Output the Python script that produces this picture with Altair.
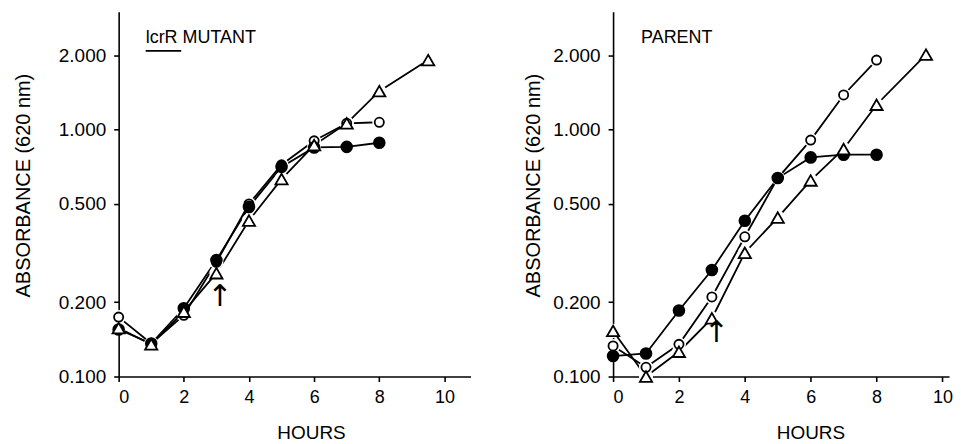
import altair as alt
import pandas as pd

# ---- data ----
hours = [0, 1, 2, 3, 4, 5, 6, 7, 8]
hours_triangle = [0, 1, 2, 3, 4, 5, 6, 7, 8, 9.5]

# lcrR mutant panel
mut_open_circle = [0.174, 0.136, 0.177, 0.290, 0.500, 0.720, 0.900, 1.060, 1.070]
mut_filled_circle = [0.155, 0.136, 0.189, 0.296, 0.486, 0.706, 0.846, 0.851, 0.884]
mut_triangle = [0.157, 0.135, 0.183, 0.262, 0.428, 0.630, 0.865, 1.060, 1.430, 1.910]

# parent panel
par_open_circle = [0.133, 0.109, 0.135, 0.210, 0.368, 0.636, 0.906, 1.380, 1.910]
par_filled_circle = [0.121, 0.124, 0.185, 0.270, 0.427, 0.636, 0.771, 0.791, 0.791]
par_triangle = [0.153, 0.100, 0.126, 0.172, 0.317, 0.440, 0.622, 0.834, 1.260, 2.010]

x_ticks = [0, 2, 4, 6, 8, 10]
y_ticks = [0.1, 0.2, 0.5, 1.0, 2.0]

panel_titles = ["lcrR MUTANT", "PARENT"]
title_hour = [0.83, 0.85]
title_value = [2.23, 2.23]
underline_hours = [0.83, 1.92]
underline_value = 2.08
arrow_hour = [3.1, 3.13]
arrow_value = [0.21, 0.15]

series_order = ["open", "filled", "triangle"]


def long_table(panel, open_c, filled_c, tri):
    rows = []
    for h, v in zip(hours, open_c):
        rows.append({"panel": panel, "series": "open", "hour": h, "value": v})
    for h, v in zip(hours, filled_c):
        rows.append({"panel": panel, "series": "filled", "hour": h, "value": v})
    for h, v in zip(hours_triangle, tri):
        rows.append({"panel": panel, "series": "triangle", "hour": h, "value": v})
    return pd.DataFrame(rows)


FONT = "Liberation Sans"


def panel_chart(df, title, t_h, t_v, a_h, a_v, width, xmax, ytitle_x, xtitle_x, underline=False):
    xs = alt.Scale(domain=[0, xmax], nice=False, zero=False)
    ys = alt.Scale(type="log", domain=[0.1, 3.0], nice=False)
    x = alt.X("hour:Q", scale=xs,
              axis=alt.Axis(values=x_ticks, title="HOURS", titleX=xtitle_x, titleY=56,
                            titleAlign="center", titleBaseline="middle", labelPadding=7))
    y = alt.Y("value:Q", scale=ys,
              axis=alt.Axis(values=y_ticks, format=".3f", title="ABSORBANCE (620 nm)",
                            titleX=ytitle_x, titleY=174, titleAngle=270, titleAlign="center",
                            titleBaseline="middle", labelPadding=8))
    xa = alt.X("hour:Q", scale=xs)
    ya = alt.Y("value:Q", scale=ys)
    base = alt.Chart(df)
    lines = base.mark_line(color="black", strokeWidth=1.8).encode(
        x=x, y=y, detail="series:N", order="hour:Q")
    halo = base.transform_filter(alt.datum.series != "filled").mark_point(
        filled=True, color="white", opacity=1, size=200, shape="circle").encode(x=xa, y=ya)
    pts = base.mark_point(stroke="black", strokeWidth=1.8, opacity=1, fillOpacity=1).encode(
        x=xa, y=ya,
        shape=alt.Shape("series:N", scale=alt.Scale(domain=series_order,
                        range=["circle", "circle", "triangle-up"]), legend=None),
        fill=alt.Fill("series:N", scale=alt.Scale(domain=series_order,
                      range=["white", "black", "white"]), legend=None),
        size=alt.Size("series:N", scale=alt.Scale(domain=series_order,
                      range=[85, 150, 50]), legend=None),
    )
    tdf = pd.DataFrame({"hour": [t_h], "value": [t_v], "text": [title]})
    ttl = alt.Chart(tdf).mark_text(align="left", baseline="alphabetic", font=FONT,
                                   fontSize=18, color="black").encode(
        x=xa, y=ya, text="text:N")
    adf = pd.DataFrame({"hour": [a_h], "value": [a_v], "text": ["↑"]})
    arrow = alt.Chart(adf).mark_text(baseline="middle", font="DejaVu Sans", fontSize=30,
                                     color="black").encode(
        x=xa, y=ya, text="text:N")
    layers = [lines, halo, pts, ttl, arrow]
    if underline:
        udf = pd.DataFrame({"hour": [underline_hours[0]], "h2": [underline_hours[1]],
                            "value": [underline_value]})
        ul = alt.Chart(udf).mark_rule(color="black", strokeWidth=1.8).encode(
            x=xa, x2="h2:Q", y=ya)
        layers.append(ul)
    return alt.layer(*layers).properties(width=width, height=366)


left_df = long_table("mutant", mut_open_circle, mut_filled_circle, mut_triangle)
right_df = long_table("parent", par_open_circle, par_filled_circle, par_triangle)

left = panel_chart(left_df, panel_titles[0], title_hour[0], title_value[0],
                   arrow_hour[0], arrow_value[0], 353, 10.8, -95, 193, underline=True)
right = panel_chart(right_df, panel_titles[1], title_hour[1], title_value[1],
                    arrow_hour[1], arrow_value[1], 337, 10.2, -80, 198)

chart = alt.hconcat(left, right, spacing=53).properties(
    padding={"left": 6, "top": 3, "right": 0, "bottom": 0}
).configure_view(stroke=None).configure_axis(
    grid=False, labelFont=FONT, titleFont=FONT, labelFontSize=19, titleFontSize=20,
    titleFontWeight="normal", labelColor="black", titleColor="black",
    domainColor="black", tickColor="black", domainWidth=1.6, tickWidth=1.6, tickSize=5,
    labelOverlap=False
).configure_axisX(labelFontSize=18, titleFontSize=19)

chart.save("out.html", embed_options={"renderer": "svg", "actions": False})
